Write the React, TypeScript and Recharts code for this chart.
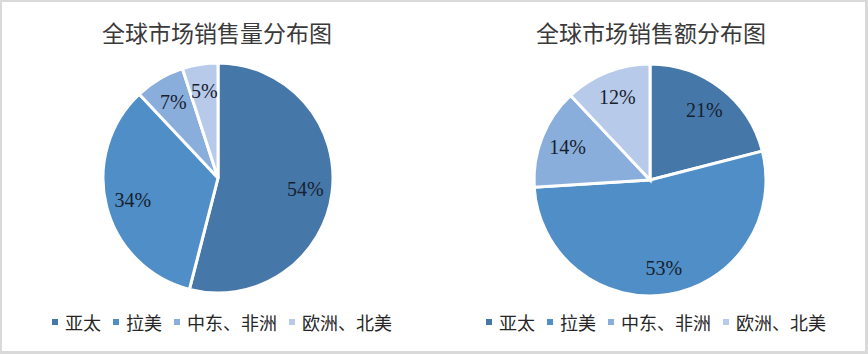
import React from "react";
import { PieChart, Pie, Cell, Legend } from "recharts";

const categories = ["亚太", "拉美", "中东、非洲", "欧洲、北美"];
const volumeShare = [54, 34, 7, 5];
const revenueShare = [21, 53, 14, 12];
const titles = ["全球市场销售量分布图", "全球市场销售额分布图"];
const colors = ["#4578a9", "#4f8ec6", "#8aaedc", "#b8caea"];

const volumeData = categories.map((name, i) => ({ name, value: volumeShare[i] }));
const revenueData = categories.map((name, i) => ({ name, value: revenueShare[i] }));

const RAD = Math.PI / 180;

const renderLabel = (props: any) => {
  const { cx, cy, midAngle, outerRadius, value } = props;
  const r = outerRadius * 0.765;
  const x = cx + r * Math.cos(-midAngle * RAD);
  const y = cy + r * Math.sin(-midAngle * RAD);
  return (
    <text
      x={x}
      y={y}
      textAnchor="middle"
      dominantBaseline="central"
      fill="#17202e"
      style={{ fontFamily: "'Liberation Serif', 'Times New Roman', serif", fontSize: 20 }}
    >
      {`${value}%`}
    </text>
  );
};

const LegendContent = () => (
  <div
    style={{
      display: "flex",
      justifyContent: "center",
      alignItems: "center",
      fontFamily: "'Noto Sans CJK SC', sans-serif",
      fontSize: 18,
      lineHeight: "20px",
      color: "#262626",
    }}
  >
    {categories.map((c, i) => (
      <div
        key={c}
        style={{ display: "flex", alignItems: "center", marginRight: i < categories.length - 1 ? 12 : 0 }}
      >
        <span style={{ display: "inline-block", width: 6, height: 6, background: colors[i], marginRight: 7 }} />
        <span>{c}</span>
      </div>
    ))}
  </div>
);

const OnePie = ({ data, title, cx, cy, r, left }: any) => (
  <div style={{ position: "absolute", left, top: 0, width: 434, height: 354 }}>
    <div
      style={{
        position: "absolute",
        left: 0,
        top: 16,
        width: 434,
        textAlign: "center",
        fontFamily: "'Noto Sans CJK SC', sans-serif",
        fontSize: 23,
        lineHeight: "32px",
        color: "#3a3a3a",
      }}
    >
      {title}
    </div>
    <PieChart
      width={434}
      height={354}
      margin={{ top: 0, right: 0, bottom: 0, left: 0 }}
      style={{ position: "absolute", left: 0, top: 0 }}
    >
      <Pie
        data={data}
        dataKey="value"
        nameKey="name"
        cx={cx}
        cy={cy}
        outerRadius={r}
        startAngle={90}
        endAngle={-270}
        stroke="#ffffff"
        strokeWidth={3}
        label={renderLabel}
        labelLine={false}
        isAnimationActive={false}
      >
        {data.map((d: any, i: number) => (
          <Cell key={d.name} fill={colors[i]} />
        ))}
      </Pie>
      <Legend
        content={<LegendContent />}
        wrapperStyle={{ position: "absolute", left: 5, top: 312, width: 434, bottom: "auto" }}
      />
    </PieChart>
  </div>
);

export default function App() {
  return (
    <div
      style={{
        position: "absolute",
        left: 0,
        top: 0,
        width: 868,
        height: 354,
        background: "#ffffff",
        overflow: "hidden",
      }}
    >
      <OnePie data={volumeData} title={titles[0]} cx={218} cy={178} r={115} left={0} />
      <OnePie data={revenueData} title={titles[1]} cx={216} cy={180} r={116} left={434} />
      <div
        style={{
          position: "absolute",
          left: 0,
          top: 0,
          width: 868,
          height: 354,
          boxSizing: "border-box",
          border: "2px solid #d9d9d9",
          borderRightWidth: 3,
          borderBottomWidth: 3,
          pointerEvents: "none",
        }}
      />
    </div>
  );
}
